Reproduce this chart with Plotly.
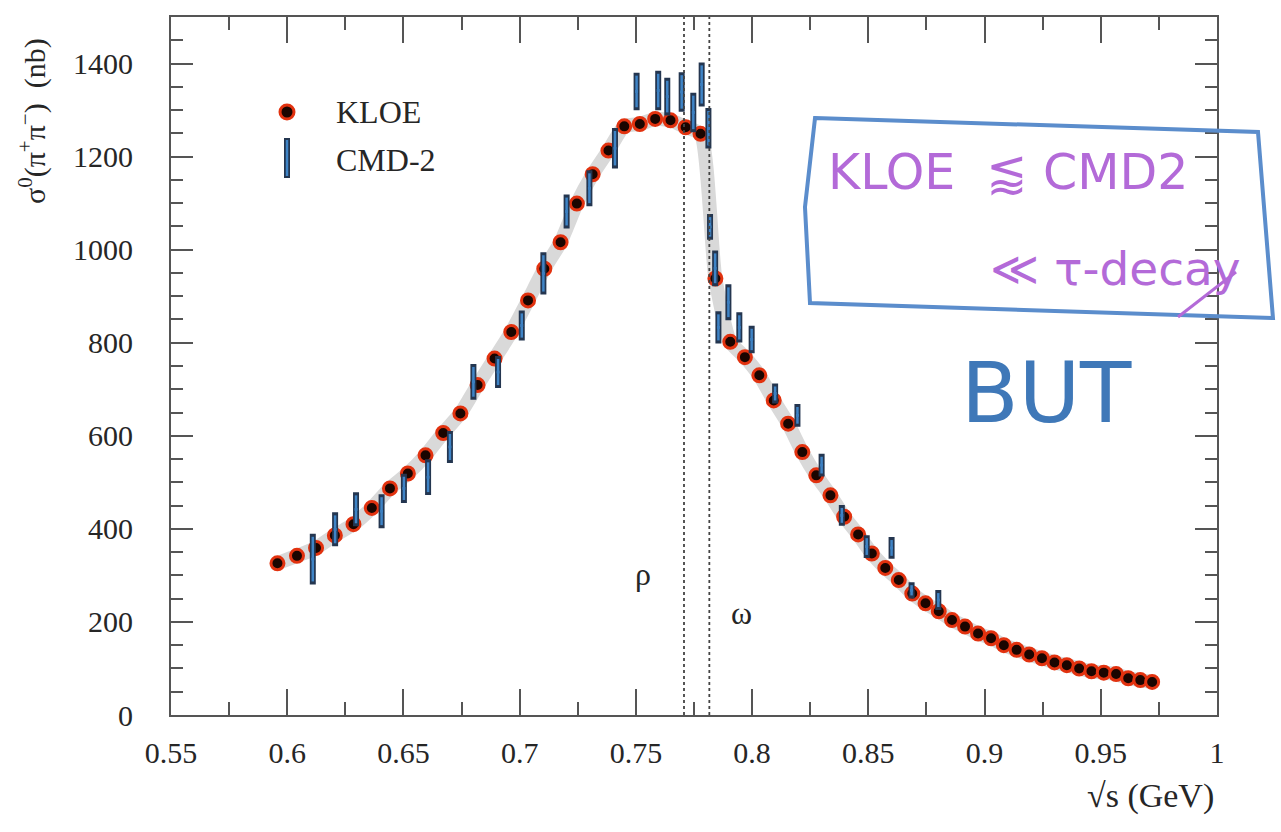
import plotly.graph_objects as go

# ---------------- data ----------------
kloe_sqrt_s = [0.5958, 0.6042, 0.6124, 0.6205, 0.6285, 0.6364, 0.6442, 0.6519, 0.6595, 0.6671,
               0.6745, 0.6819, 0.6892, 0.6964, 0.7036, 0.7106, 0.7176, 0.7246, 0.7314, 0.7382,
               0.7450, 0.7517, 0.7583, 0.7649, 0.7714, 0.7778, 0.7842, 0.7906, 0.7969, 0.8031,
               0.8093, 0.8155, 0.8216, 0.8276, 0.8337, 0.8396, 0.8456, 0.8515, 0.8573, 0.8631,
               0.8689, 0.8746, 0.8803, 0.8860, 0.8916, 0.8972, 0.9028, 0.9083, 0.9138, 0.9192,
               0.9247, 0.9301, 0.9354, 0.9407, 0.9460, 0.9513, 0.9566, 0.9618, 0.9670, 0.9721]
kloe_sigma = [326, 342, 359, 386, 410, 445, 487, 519, 558, 606,
              648, 709, 766, 823, 891, 959, 1016, 1099, 1162, 1213,
              1265, 1270, 1281, 1278, 1263, 1249, 938, 802, 769, 730,
              676, 626, 565, 515, 472, 426, 388, 347, 316, 290,
              261, 240, 223, 204, 190, 175, 165, 150, 140, 130,
              122, 113, 107, 100, 94, 91, 88, 79, 75, 71]

cmd2_sqrt_s = [0.611, 0.6206, 0.6296, 0.6406, 0.6502, 0.6606, 0.670, 0.6801, 0.6907, 0.7009,
               0.7102, 0.7202, 0.730, 0.741, 0.7503, 0.7596, 0.7635, 0.7697, 0.7747, 0.7783,
               0.7812, 0.7819, 0.7841, 0.7855, 0.7898, 0.7945, 0.7998, 0.8099, 0.8195, 0.8299,
               0.8386, 0.8493, 0.860, 0.8686, 0.8801]
cmd2_sigma = [335, 399, 442, 438, 487, 511, 576, 716, 737, 837,
              949, 1082, 1132, 1218, 1340, 1342, 1329, 1339, 1295, 1355,
              1261, 1049, 960, 833, 887, 833, 807, 691, 644, 537,
              429, 362, 359, 268, 247]
cmd2_err = [48, 30, 30, 30, 25, 32, 28, 32, 28, 26,
            39, 30, 32, 37, 34, 36, 34, 36, 36, 41,
            37, 21, 32, 28, 32, 26, 23, 15, 18, 18,
            16, 18, 17, 11, 15]

resonance_lines = [0.7707, 0.7816]      # rho / omega dotted markers
resonance_names = ["ρ", "ω"]

x_ticks = [0.55, 0.6, 0.65, 0.7, 0.75, 0.8, 0.85, 0.9, 0.95, 1.0]
x_tick_text = ["0.55", "0.6", "0.65", "0.7", "0.75", "0.8", "0.85", "0.9", "0.95", "1"]
y_ticks = [0, 200, 400, 600, 800, 1000, 1200, 1400]

SERIF = "Liberation Serif, Times New Roman, serif"
HAND = "DejaVu Sans, sans-serif"
AX = "#555555"
TXT = "#262626"

fig = go.Figure()

# grey fit band
fig.add_trace(go.Scatter(x=kloe_sqrt_s, y=kloe_sigma, mode="lines",
                         line=dict(color="#d9d9d9", width=14, shape="spline", smoothing=0.6),
                         hoverinfo="skip", showlegend=False))

# KLOE points
fig.add_trace(go.Scatter(x=kloe_sqrt_s, y=kloe_sigma, mode="markers", name="KLOE",
                         marker=dict(symbol="circle", size=13, color="#1a0500",
                                     line=dict(color="#e2320f", width=3)),
                         showlegend=False))

# CMD-2 points (dark outline + blue core)
fig.add_trace(go.Scatter(x=cmd2_sqrt_s, y=cmd2_sigma, mode="markers", name="CMD-2",
                         marker=dict(symbol="square", size=4, color="#1f2f45"),
                         error_y=dict(type="data", array=cmd2_err, visible=True,
                                      color="#243650", thickness=6, width=3),
                         showlegend=False))
fig.add_trace(go.Scatter(x=cmd2_sqrt_s, y=cmd2_sigma, mode="markers", name="CMD-2 core",
                         marker=dict(symbol="square", size=3, color="#3c7fc0"),
                         error_y=dict(type="data", array=cmd2_err, visible=True,
                                      color="#3f84c6", thickness=2.5, width=0),
                         showlegend=False, hoverinfo="skip"))

shapes = []
for xv in resonance_lines:
    shapes.append(dict(type="line", xref="x", yref="paper", x0=xv, x1=xv, y0=0, y1=1,
                       line=dict(color="#444444", width=1.8, dash="dot")))

# ---- layout geometry (plot area 171..1217 x 17..715 px) ----
L, R, T, B = 171, 1217, 17, 715
W, H = R - L, B - T
def px(x):
    return (x - L) / W
def py(y):
    return (B - y) / H

# legend keys
shapes.append(dict(type="circle", xref="paper", yref="paper", xsizemode="pixel", ysizemode="pixel",
                   xanchor=px(287), yanchor=py(112), x0=-7, x1=7, y0=-7, y1=7,
                   fillcolor="#1a0500", line=dict(color="#e2320f", width=3)))
shapes.append(dict(type="line", xref="paper", yref="paper", xsizemode="pixel", ysizemode="pixel",
                   xanchor=px(287), yanchor=py(158), x0=0, x1=0, y0=-20, y1=20,
                   line=dict(color="#243650", width=6)))
shapes.append(dict(type="line", xref="paper", yref="paper", xsizemode="pixel", ysizemode="pixel",
                   xanchor=px(287), yanchor=py(158), x0=0, x1=0, y0=-18, y1=18,
                   line=dict(color="#3f84c6", width=2.5)))

# handwritten box
box = [(815, 118), (1258, 132), (1273, 318), (810, 303), (805, 207)]
path = "M " + " L ".join(f"{px(a):.4f},{py(b):.4f}" for a, b in box) + " Z"
shapes.append(dict(type="path", xref="paper", yref="paper", path=path,
                   line=dict(color="#5b8dcc", width=4)))
shapes.append(dict(type="line", xref="paper", yref="paper",
                   x0=px(1236), y0=py(272), x1=px(1178), y1=py(317),
                   line=dict(color="#b36ad8", width=3)))

annotations = [
    dict(text="σ<sup>0</sup>(π<sup>+</sup>π<sup>−</sup>)  (nb)", xref="paper", yref="paper",
         x=px(32), y=py(121), xanchor="center", yanchor="middle", textangle=-90,
         showarrow=False, font=dict(family=SERIF, size=30, color=TXT)),
    dict(text="√s (GeV)", xref="paper", yref="paper", x=px(1216), y=py(796),
         xanchor="right", yanchor="middle", showarrow=False,
         font=dict(family=SERIF, size=34, color=TXT)),
    dict(text="KLOE", xref="paper", yref="paper", x=px(334), y=py(112),
         xanchor="left", yanchor="middle", showarrow=False,
         font=dict(family=SERIF, size=32, color=TXT)),
    dict(text="CMD-2", xref="paper", yref="paper", x=px(334), y=py(160),
         xanchor="left", yanchor="middle", showarrow=False,
         font=dict(family=SERIF, size=32, color=TXT)),
    dict(text=resonance_names[0], xref="paper", yref="paper", x=px(643), y=py(574),
         xanchor="center", yanchor="middle", showarrow=False,
         font=dict(family=SERIF, size=32, color=TXT)),
    dict(text=resonance_names[1], xref="paper", yref="paper", x=px(741), y=py(613),
         xanchor="center", yanchor="middle", showarrow=False,
         font=dict(family=SERIF, size=32, color=TXT)),
    dict(text="KLOE  ⪅ CMD2", xref="paper", yref="paper", x=px(826), y=py(172),
         xanchor="left", yanchor="middle", showarrow=False,
         font=dict(family=HAND, size=49, color="#b36ad8")),
    dict(text="≪ τ-decay", xref="paper", yref="paper", x=px(988), y=py(268),
         xanchor="left", yanchor="middle", showarrow=False,
         font=dict(family=HAND, size=47, color="#b36ad8")),
    dict(text="BUT", xref="paper", yref="paper", x=px(1046), y=py(393),
         xanchor="center", yanchor="middle", showarrow=False,
         font=dict(family=HAND, size=84, color="#3f78b8")),
]

axis_common = dict(showline=True, mirror="ticks", linecolor=AX, linewidth=2,
                   ticks="inside", tickcolor=AX, tickwidth=2, showgrid=False, zeroline=False,
                   tickfont=dict(family=SERIF, size=30, color=TXT))

fig.update_layout(
    width=1281, height=832,
    margin=dict(l=L, r=1281 - R, t=T, b=832 - B),
    paper_bgcolor="white", plot_bgcolor="white",
    showlegend=False,
    shapes=shapes, annotations=annotations,
    xaxis=dict(range=[0.55, 1.0], tickvals=x_ticks, ticktext=x_tick_text, ticklen=26,
               ticklabelstandoff=10,
               minor=dict(dtick=0.025, tick0=0.55, ticks="inside", ticklen=13, tickcolor=AX, tickwidth=2),
               **axis_common),
    yaxis=dict(range=[0, 1500], tickvals=y_ticks, ticklen=22, ticklabelstandoff=30,
               minor=dict(dtick=50, tick0=0, ticks="inside", ticklen=12, tickcolor=AX, tickwidth=2),
               **axis_common),
)

fig.write_html("out.html")
